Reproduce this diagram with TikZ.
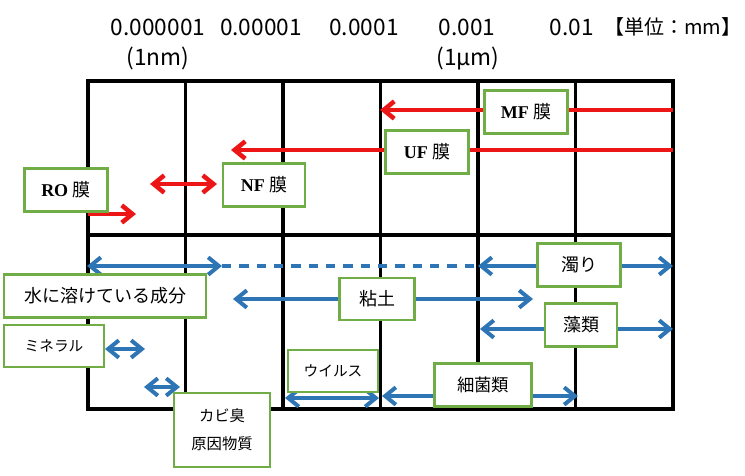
\documentclass[tikz,border=0pt]{standalone}
\usepackage{fontspec}
\setmainfont{Liberation Serif}
\newfontfamily\jpfont{Noto Sans CJK JP}
\usepackage{tikz}
\usetikzlibrary{arrows.meta}
\definecolor{mred}{RGB}{236,22,22}
\definecolor{mblue}{RGB}{46,117,182}
\definecolor{mgreen}{RGB}{112,173,71}
\tikzset{>={Straight Barb[length=8pt,width=13pt]}}
\tikzstyle{gridline} = [line width=2.8pt, black]
\tikzstyle{redarr} = [line width=3.4pt, mred]
\tikzstyle{bluearr} = [line width=3pt, mblue]
\tikzstyle{lbox} = [rectangle, draw = mgreen, line width=1.8pt, fill=white, inner sep=0, align=center, minimum width=62pt, minimum height=32pt]
\tikzstyle{sizelbl} = [inner sep=0, font=\jpfont\fontsize{17}{19}\selectfont]
\newcommand{\memb}[1]{\textbf{#1} {\jpfont 膜}}

\begin{document}
\begin{tikzpicture}[x=0.75pt, y=-0.75pt, font=\fontsize{13.5}{15}\selectfont]
\useasboundingbox (0,0) rectangle (745,475);
% size scale
\node [sizelbl] (s1) at (158,27) {0.000001};
\node [sizelbl] (s1b) at (158,58) {(1nm)};
\node [sizelbl] (s2) at (261,27) {0.00001};
\node [sizelbl] (s3) at (364,27) {0.0001};
\node [sizelbl] (s4) at (467,27) {0.001};
\node [sizelbl] (s4b) at (468,58) {(1µm)};
\node [sizelbl] (s5) at (572,27) {0.01};
\node [sizelbl, anchor=west, font=\jpfont\fontsize{15}{17}\selectfont] (unit) at (604,27) {【単位：mm】};
% grid
\draw [gridline] (88,81) rectangle (673,409);
\draw [gridline] (88,235) -- (673,235);
\foreach \x in {185.5,283,380.5,478,575.5}
  \draw [gridline] (\x,81) -- (\x,409);
% membranes
\coordinate (mfR) at (673,110);
\coordinate (mfL) at (380,110);
\coordinate (ufR) at (673,150);
\coordinate (ufL) at (231,150);
\coordinate (nfL) at (150,184);
\coordinate (nfR) at (217,184);
\coordinate (roL) at (88,214);
\coordinate (roR) at (136,214);
\draw [redarr, ->] (mfR) -- (mfL);
\draw [redarr, ->] (ufR) -- (ufL);
\draw [redarr, <->] (nfL) -- (nfR);
\draw [redarr, ->] (roL) -- (roR);
\node [lbox] (MF) at (526,112) {\memb{MF}};
\node [lbox] (UF) at (427,152) {\memb{UF}};
\node [lbox, minimum width=61.5pt] (NF) at (264,185) {\memb{NF}};
\node [lbox] (RO) at (66,190) {\memb{RO}};
% substances
\coordinate (a1) at (87,266);
\coordinate (a2) at (222,266);
\coordinate (a3) at (478,266);
\coordinate (a4) at (673,266);
\coordinate (clayL) at (233,299);
\coordinate (clayR) at (533,299);
\coordinate (algL) at (480,329);
\coordinate (algR) at (673,329);
\coordinate (minL) at (105,349);
\coordinate (minR) at (145,349);
\coordinate (odL) at (144,387);
\coordinate (odR) at (180,387);
\coordinate (virL) at (285,398);
\coordinate (virR) at (379,398);
\coordinate (bacL) at (382,396);
\coordinate (bacR) at (578,396);
\draw [bluearr, <->] (a1) -- (a2);
\draw [bluearr, dash pattern=on 7pt off 6pt] (a2) -- (a3);
\draw [bluearr, <->] (a3) -- (a4);
\draw [bluearr, <->] (clayL) -- (clayR);
\draw [bluearr, <->] (algL) -- (algR);
\draw [bluearr, <->] (minL) -- (minR);
\draw [bluearr, <->] (odL) -- (odR);
\draw [bluearr, <->] (virL) -- (virR);
\draw [bluearr, <->] (bacL) -- (bacR);
\node [lbox, font=\jpfont\fontsize{13.5}{15}\selectfont] (turb) at (579,265) {濁り};
\node [lbox, minimum width=151.5pt, font=\jpfont\fontsize{13.5}{15}\selectfont] (diss) at (105,296) {水に溶けている成分};
\node [lbox, minimum width=56pt, minimum height=31.5pt, font=\jpfont\fontsize{13.5}{15}\selectfont] (clay) at (377,299) {粘土};
\node [lbox, minimum width=54pt, font=\jpfont\fontsize{13.5}{15}\selectfont] (alg) at (581,325) {藻類};
\node [lbox, minimum width=75pt, minimum height=31.5pt, font=\jpfont\fontsize{11}{13}\selectfont] (mine) at (54,346) {ミネラル};
\node [lbox, minimum width=72pt, minimum height=55.5pt, font=\jpfont\fontsize{11.5}{13}\selectfont] (odor) at (222,430) {カビ臭\\[8pt]原因物質};
\node [lbox, minimum width=67.5pt, minimum height=31.5pt, font=\jpfont\fontsize{11}{13}\selectfont] (vir) at (333,371) {ウイルス};
\node [lbox, minimum width=73pt, font=\jpfont\fontsize{13}{15}\selectfont] (bac) at (483,385) {細菌類};
\end{tikzpicture}
\end{document}
